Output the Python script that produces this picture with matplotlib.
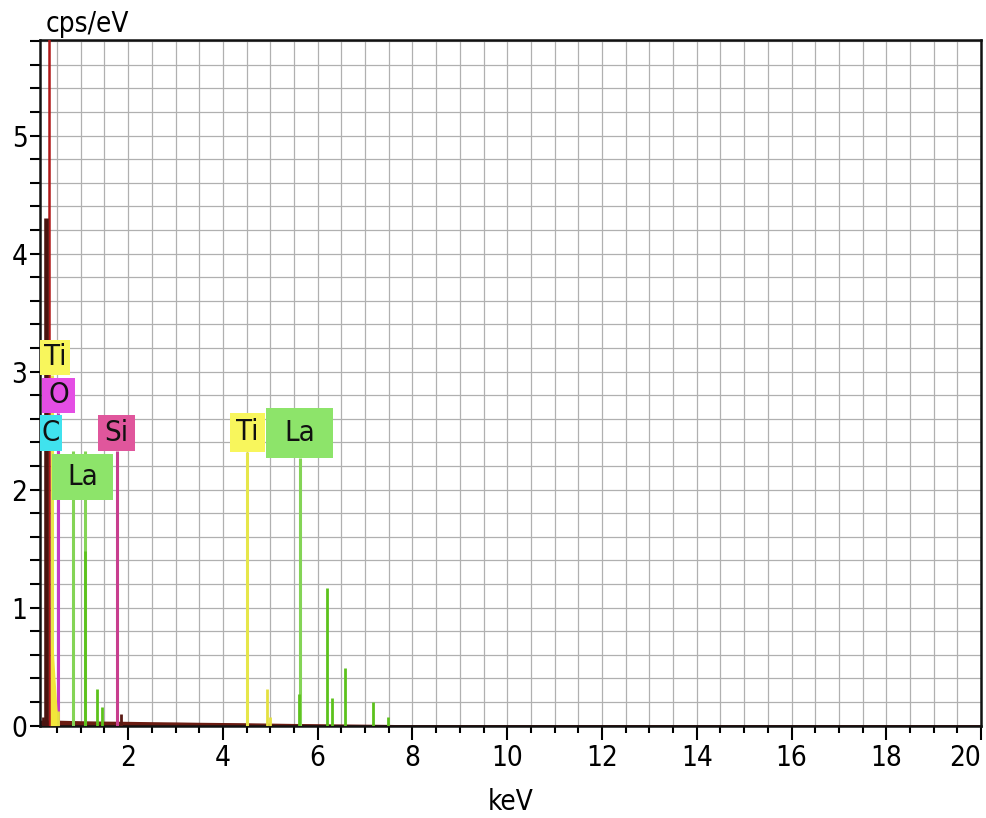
import matplotlib
matplotlib.use('Agg')
import matplotlib.pyplot as plt
from matplotlib.patches import Rectangle
from matplotlib.ticker import MultipleLocator

plt.rcParams['font.family'] = ['DejaVu Sans']
plt.rcParams['font.stretch'] = 'condensed'

# ---------------- data ----------------
x_ticks = [2, 4, 6, 8, 10, 12, 14, 16, 18, 20]
y_ticks = [0, 1, 2, 3, 4, 5]

# continuum background (keV, cps/eV)
bg_energy = [0.15, 0.5, 1.0, 1.5, 2.0, 2.5, 3.0, 3.5, 4.0, 4.5, 5.0, 5.5, 6.0, 6.5, 7.0, 7.5, 8.0, 20.0]
bg_level = [0.04, 0.04, 0.035, 0.032, 0.03, 0.027, 0.025, 0.022, 0.02, 0.018, 0.015, 0.012, 0.01, 0.008, 0.006, 0.004, 0.0, 0.0]

# main C K peak (clipped) and its darker core
c_peak_energy = [0.33, 0.27]
c_peak_height = [6.5, 4.3]

# broad Ti L hump
til_energy = [0.34, 0.36, 0.42, 0.46, 0.50, 0.54]
til_height = [0.0, 0.74, 0.65, 0.38, 0.14, 0.0]

# narrow spectrum peaks, coloured by element
peak_energy = [0.20, 0.52, 1.09, 1.34, 1.45, 1.85, 4.94, 5.00, 5.60, 6.20, 6.31, 6.58, 7.16, 7.48]
peak_height = [0.07, 0.12, 1.48, 0.31, 0.16, 0.10, 0.31, 0.07, 0.27, 1.17, 0.23, 0.49, 0.20, 0.07]
peak_element = ['C', 'Ti', 'La', 'La', 'La', 'Si', 'Ti', 'Ti', 'La', 'La', 'La', 'La', 'La', 'La']

# element marker lines
marker_energy = [0.40, 0.53, 0.83, 1.09, 1.76, 4.50, 5.62]
marker_top = [2.97, 2.65, 2.33, 2.33, 2.33, 2.32, 2.27]
marker_element = ['Ti', 'O', 'La', 'La', 'Si', 'Ti', 'La']

# element labels
label_text = ['Ti', 'O', 'C', 'La', 'Si', 'Ti', 'La']
label_element = ['Ti', 'O', 'C', 'La', 'Si', 'Ti', 'La']

# ---------------- layout / styles ----------------
label_box = [  # (x0, x1, y0, y1) in data units
    (0.15, 0.77, 2.97, 3.27),
    (0.18, 0.88, 2.65, 2.95),
    (0.14, 0.60, 2.33, 2.63),
    (0.39, 1.69, 1.91, 2.30),
    (1.37, 2.14, 2.33, 2.63),
    (4.15, 4.88, 2.32, 2.65),
    (4.92, 6.32, 2.27, 2.69),
]
box_color = {'Ti': '#f8f65c', 'O': '#e44ee4', 'C': '#40e2ee', 'La': '#8de46a', 'Si': '#e0569c'}
line_color = {'Ti': '#e6e64a', 'O': '#c43cc6', 'C': '#3a1510', 'La': '#84d456', 'Si': '#c83e8e'}
peak_color = {'Ti': '#e4e040', 'O': '#c43cc6', 'C': '#4a1410', 'La': '#5cc21c', 'Si': '#5a1a14'}

fig = plt.figure(figsize=(9.87, 8.18), dpi=100)
ax = fig.add_axes([0.0405, 0.113, 0.9535, 0.838])
ax.set_xlim(0.14, 20.0)
ax.set_ylim(0, 5.81)

ax.xaxis.set_minor_locator(MultipleLocator(0.5))
ax.yaxis.set_minor_locator(MultipleLocator(0.2))
ax.set_xticks(x_ticks)
ax.set_xticklabels([str(v) for v in x_ticks])
ax.set_yticks(y_ticks)
ax.set_yticklabels([str(v) for v in y_ticks])
ax.get_xticklabels()[-1].set_horizontalalignment('right')

ax.grid(which='both', color='#b0b0b0', linewidth=0.9, zorder=0)
ax.set_axisbelow(True)

ax.tick_params(axis='x', which='major', length=10, width=1.5, labelsize=20, direction='out', pad=3)
ax.tick_params(axis='x', which='minor', length=5, width=1.5, direction='out')
ax.tick_params(axis='y', which='major', length=7, width=1.5, labelsize=20, direction='out', pad=2)
ax.tick_params(axis='y', which='minor', length=7, width=1.5, direction='out')
for s in ax.spines.values():
    s.set_linewidth(1.8)
    s.set_color('#111111')

# background
ax.fill_between(bg_energy, 0, bg_level, color='#6a1c12', linewidth=1.0, zorder=2)

# marker lines
for e, t, el in zip(marker_energy, marker_top, marker_element):
    ax.vlines(e, 0, t, color=line_color[el], linewidth=2.2, zorder=3)

# Ti L hump
ax.fill_between(til_energy, 0, til_height, color='#f2e63a', linewidth=0, zorder=3)

# C peak
ax.vlines(c_peak_energy[0], 0, c_peak_height[0], color='#b01818', linewidth=1.8, zorder=4)
ax.vlines(c_peak_energy[1], 0, c_peak_height[1], color='#4a1410', linewidth=3.3, zorder=5)

# narrow peaks
for e, h, el in zip(peak_energy, peak_height, peak_element):
    ax.vlines(e, 0, h, color=peak_color[el], linewidth=2.0, zorder=5)

# labels
for txt, el, (x0, x1, y0, y1) in zip(label_text, label_element, label_box):
    ax.add_patch(Rectangle((x0, y0), x1 - x0, y1 - y0, facecolor=box_color[el],
                           edgecolor='none', zorder=6))
    ax.text((x0 + x1) / 2, (y0 + y1) / 2, txt, ha='center', va='center',
            fontsize=21, color='#111111', zorder=7)

ax.set_xlabel('keV', fontsize=20, labelpad=12)
fig.text(0.046, 0.988, 'cps/eV', fontsize=20, ha='left', va='top')

fig.savefig('out.png', dpi=100)
